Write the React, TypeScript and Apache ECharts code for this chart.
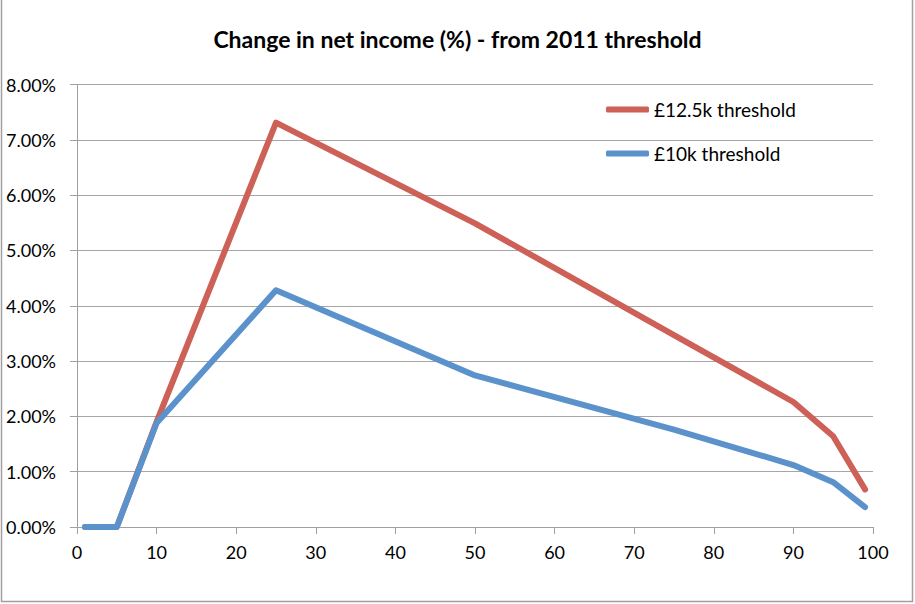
import { useEffect, useRef } from 'react';
import * as echarts from 'echarts';

// income percentile (x) and change in net income, in percent
const percentiles = [1, 5, 10, 25, 50, 75, 90, 95, 99];
const threshold12k = [0, 0, 1.9, 7.31, 5.49, 3.47, 2.26, 1.64, 0.68];
const threshold10k = [0, 0, 1.88, 4.28, 2.74, 1.76, 1.12, 0.81, 0.36];
const seriesNames = ['£12.5k threshold', '£10k threshold'];

const FONT = 'Lato, "Open Sans", sans-serif';

function App() {
  const chartRef = useRef<HTMLDivElement>(null);

  useEffect(() => {
    const myChart = echarts.init(chartRef.current, null, { renderer: 'svg' });

    const toPairs = (vals: number[]) => percentiles.map((p, i) => [p, vals[i]]);

    const option = {
      animation: false,
      backgroundColor: '#ffffff',
      title: {
        text: 'Change in net income (%) - from 2011 threshold',
        left: 'center',
        top: 22,
        textStyle: {
          fontFamily: FONT,
          fontSize: 23,
          fontWeight: 'bold',
          color: '#000000',
        },
      },
      legend: {
        orient: 'vertical',
        left: 606,
        top: 100,
        padding: 0,
        itemWidth: 43,
        itemHeight: 6,
        itemGap: 25,
        icon: 'roundRect',
        textStyle: {
          fontFamily: FONT,
          fontSize: 19,
          color: '#000000',
        },
        data: seriesNames,
      },
      grid: {
        left: 77,
        right: 42,
        top: 84.5,
        bottom: 77,
      },
      xAxis: {
        type: 'value',
        min: 0,
        max: 100,
        interval: 10,
        axisLine: { show: true, lineStyle: { color: '#a0a0a0', width: 1 } },
        axisTick: { show: true, length: 7, lineStyle: { color: '#a0a0a0' } },
        splitLine: { show: false },
        axisLabel: {
          margin: 16,
          fontFamily: FONT,
          fontSize: 18,
          color: '#000000',
        },
      },
      yAxis: {
        type: 'value',
        min: 0,
        max: 8,
        interval: 1,
        axisLine: { show: true, lineStyle: { color: '#a0a0a0', width: 1 } },
        axisTick: { show: true, length: 7, lineStyle: { color: '#a0a0a0' } },
        splitLine: { show: true, lineStyle: { color: '#a6a6a6', width: 1 } },
        axisLabel: {
          margin: 21,
          fontFamily: FONT,
          fontSize: 18,
          color: '#000000',
          formatter: (v: number) => v.toFixed(2) + '%',
        },
      },
      graphic: [
        {
          type: 'rect',
          shape: { x: 1.5, y: -2, width: 911, height: 603.5 },
          style: { fill: 'none', stroke: '#a0a0a0', lineWidth: 1.5 },
          silent: true,
        },
      ],
      series: [
        {
          name: seriesNames[0],
          type: 'line',
          data: toPairs(threshold12k),
          symbol: 'none',
          itemStyle: { color: '#cd6158' },
          lineStyle: { color: '#cd6158', width: 6, cap: 'round', join: 'round' },
        },
        {
          name: seriesNames[1],
          type: 'line',
          data: toPairs(threshold10k),
          symbol: 'none',
          itemStyle: { color: '#5b92cc' },
          lineStyle: { color: '#5b92cc', width: 6, cap: 'round', join: 'round' },
        },
      ],
    };

    myChart.setOption(option);

    return () => {
      myChart.dispose();
    };
  }, []);

  return (
    <div
      ref={chartRef}
      style={{ position: 'absolute', left: 0, top: 0, width: '915px', height: '604px' }}
    ></div>
  );
}

export default App;
